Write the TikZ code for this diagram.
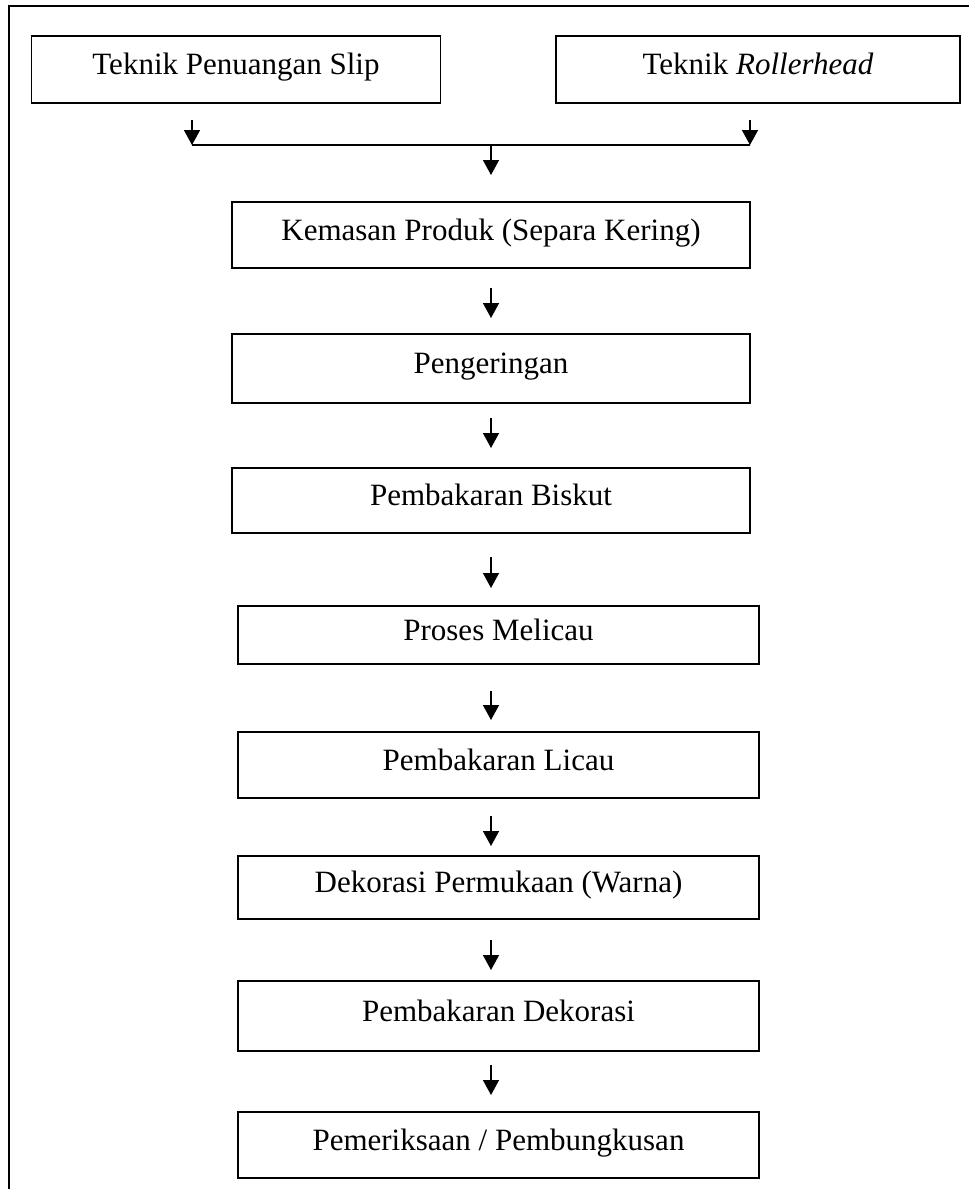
\documentclass[tikz,border=0pt]{standalone}
\usepackage{fontspec}
\setmainfont{Liberation Serif}
\usetikzlibrary{arrows.meta}
\begin{document}
\begin{tikzpicture}[x=1pt,y=-1pt,
  stepbox/.style={draw, line width=1.8pt, rectangle, inner sep=0pt,
    font=\fontsize{31}{36}\selectfont, text height=20pt, text depth=10pt},
  flow/.style={line width=1.5pt, -{Triangle[length=15pt,width=16pt]}},
  plain/.style={line width=1.5pt}]
\useasboundingbox (0,0) rectangle (969,1189);
\draw[line width=2pt] (9.3,1200) -- (9.3,6) -- (980,6);
% boxes: centre x, centre y, width, height
\node[stepbox, minimum width=409pt, minimum height=67pt] (a) at (236,69.5) {Teknik Penuangan Slip};
\node[stepbox, minimum width=404pt, minimum height=67pt] (b) at (758,69.5) {Teknik \textit{Rollerhead}};
\node[stepbox, minimum width=518pt, minimum height=66pt] (c) at (491,235) {Kemasan Produk (Separa Kering)};
\node[stepbox, minimum width=518pt, minimum height=69pt] (d) at (491,368.5) {Pengeringan};
\node[stepbox, minimum width=518pt, minimum height=65pt] (e) at (491,500.5) {Pembakaran Biskut};
\node[stepbox, minimum width=521pt, minimum height=58pt] (f) at (498.5,635) {Proses Melicau};
\node[stepbox, minimum width=521pt, minimum height=66pt] (g) at (498.5,765) {Pembakaran Licau};
\node[stepbox, minimum width=521pt, minimum height=63pt] (h) at (498.5,887.5) {Dekorasi Permukaan (Warna)};
\node[stepbox, minimum width=521pt, minimum height=70pt] (i) at (498.5,1016) {Pembakaran Dekorasi};
\node[stepbox, minimum width=521pt, minimum height=66pt] (j) at (498.5,1145) {Pemeriksaan / Pembungkusan};
% merge connector
\coordinate (la) at (192,120);
\coordinate (lb) at (192,145);
\coordinate (ra) at (750,120);
\coordinate (rb) at (750,145);
\coordinate (ma) at (491,145);
\coordinate (mb) at (491,175);
\draw[flow] (la) -- (lb);
\draw[flow] (ra) -- (rb);
\draw[plain] (lb) -- (rb);
\draw[flow] (ma) -- (mb);
% vertical arrows
\coordinate (c1) at (491,288); \coordinate (c2) at (491,318);
\coordinate (d1) at (491,418); \coordinate (d2) at (491,448);
\coordinate (e1) at (491,557); \coordinate (e2) at (491,588);
\coordinate (f1) at (491,691); \coordinate (f2) at (491,720);
\coordinate (g1) at (491,816); \coordinate (g2) at (491,846);
\coordinate (h1) at (491,940); \coordinate (h2) at (491,970);
\coordinate (i1) at (491,1065); \coordinate (i2) at (491,1095);
\draw[flow] (c1) -- (c2);
\draw[flow] (d1) -- (d2);
\draw[flow] (e1) -- (e2);
\draw[flow] (f1) -- (f2);
\draw[flow] (g1) -- (g2);
\draw[flow] (h1) -- (h2);
\draw[flow] (i1) -- (i2);
\end{tikzpicture}
\end{document}
